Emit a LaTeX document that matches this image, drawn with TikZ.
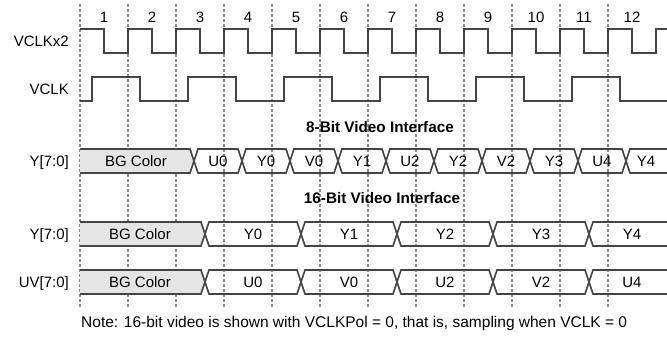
\documentclass[tikz,border=0pt]{standalone}
\usepackage{fontspec}
\setmainfont{Liberation Sans}
\usetikzlibrary{calc}
\definecolor{wavegray}{gray}{0.27}
\definecolor{gridgray}{gray}{0.55}
\definecolor{bgfill}{gray}{0.90}

\begin{document}
\begin{tikzpicture}[
  x=1pt, y=-1pt,
  txt/.style={font=\fontsize{15}{17}\selectfont, inner sep=0pt, anchor=base},
  sig/.style={txt, anchor=base east},
  title/.style={txt, font=\bfseries\fontsize{15.3}{17}\selectfont},
  wave/.style={line width=1.6pt, color=wavegray, line join=miter},
  guide/.style={dash pattern=on 3pt off 2pt, line width=1.1pt, color=gridgray},
]
  \useasboundingbox (0,0) rectangle (667,351);

  % clock grid
  \foreach \k in {0,...,11}
    \draw[guide] (80+48*\k,4) -- (80+48*\k,307);
  \foreach \k in {1,...,12}
    \node[txt] (num\k) at (56+48*\k,22.5) {\k};

  % clocks
  \node[sig] (vclkx2) at (69,46.4) {VCLKx2};
  \node[sig] (vclk) at (69,94.4) {VCLK};
  \draw[wave] (80,29) \foreach \k in {0,...,11} { -- ++(24,0) -- ++(0,24) -- ++(24,0) -- ++(0,-24) } -- (667,29);
  \draw[wave] (80,101) -- (92,101) \foreach \k in {0,...,5} { -- ++(0,-24) -- ++(48,0) -- ++(0,24) -- ++(48,0) };

  % 8-bit interface
  \node[title] (t8) at (380,132) {8-Bit Video Interface};
  \node[sig] (y8) at (69,166.4) {Y[7:0]};
  \fill[bgfill] (80,149) -- (190,149) -- (194,161) -- (190,173) -- (80,173) -- cycle;
  \draw[wave] (80,149) -- (190,149) -- (194,161) -- (190,173) -- (80,173);
  \node[txt] (bg8) at (136,166.4) {BG Color};
  \foreach \a/\v [count=\i] in {194/U0,242/Y0,290/V0,338/Y1,386/U2,434/Y2,482/V2,530/Y3,578/U4} {
    \draw[wave] (\a,161) -- (\a+4,149) -- (\a+44,149) -- (\a+48,161) -- (\a+44,173) -- (\a+4,173) -- cycle;
    \node[txt] (c8-\i) at (\a+24,166.4) {\v};
  }
  \draw[wave] (667,149) -- (630,149) -- (626,161) -- (630,173) -- (667,173);
  \node[txt] (c8-10) at (646,166.4) {Y4};

  % 16-bit interface
  \node[title] (t16) at (382,203) {16-Bit Video Interface};
  \node[sig] (y16) at (69,239.4) {Y[7:0]};
  \node[sig] (uv16) at (69,287.4) {UV[7:0]};
  \foreach \t/\row in {222/y, 270/uv} {
    \fill[bgfill] (80,\t) -- (201,\t) -- (205,\t+12) -- (201,\t+24) -- (80,\t+24) -- cycle;
    \draw[wave] (80,\t) -- (201,\t) -- (205,\t+12) -- (201,\t+24) -- (80,\t+24);
    \node[txt] (\row-bg) at (140,\t+17.4) {BG Color};
    \draw[wave] (667,\t) -- (593,\t) -- (589,\t+12) -- (593,\t+24) -- (667,\t+24);
    \foreach \a in {205,301,397,493}
      \draw[wave] (\a,\t+12) -- (\a+4,\t) -- (\a+92,\t) -- (\a+96,\t+12) -- (\a+92,\t+24) -- (\a+4,\t+24) -- cycle;
  }
  \foreach \a/\v [count=\i] in {205/Y0,301/Y1,397/Y2,493/Y3,589/Y4}
    \node[txt] (c16y-\i) at ({min(\a+48,632)},239.4) {\v};
  \foreach \a/\v [count=\i] in {205/U0,301/V0,397/U2,493/V2,589/U4}
    \node[txt] (c16uv-\i) at ({min(\a+48,632)},287.4) {\v};

  % note
  \node[txt, anchor=base west, font=\fontsize{15.5}{18}\selectfont] (note) at (81,327) {Note: 16-bit video is shown with VCLKPol = 0, that is, sampling when VCLK = 0};
\end{tikzpicture}
\end{document}
